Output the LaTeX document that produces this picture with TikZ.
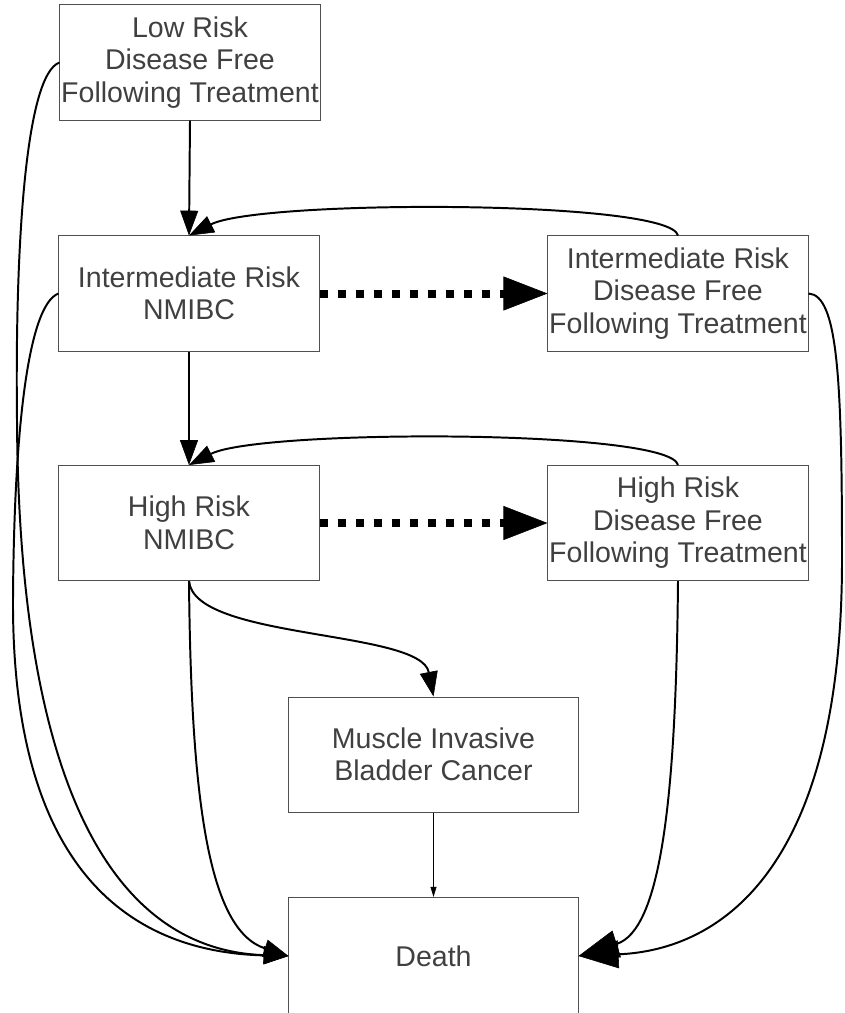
\documentclass[tikz,border=0pt]{standalone}
\usepackage{fontspec}
\setmainfont{Liberation Sans}
\usetikzlibrary{arrows.meta}
\definecolor{boxgray}{RGB}{80,80,80}
\definecolor{textgray}{RGB}{64,64,64}

\begin{document}
\begin{tikzpicture}[
  x=0.025cm, y=-0.025cm,
  state/.style={draw=boxgray, line width=0.7pt, text=textgray, align=center,
    minimum width=6.5cm, minimum height=2.875cm, inner sep=0pt,
    font=\fontsize{20.3}{23.1}\selectfont},
  wide/.style={state, minimum width=7.225cm},
  arr/.style={line width=1.4pt, -{Triangle[length=0.62cm, width=0.45cm, line width=0.4pt]}},
  bigarr/.style={line width=1.4pt, -{Triangle[length=1cm, width=0.7cm, line width=0.4pt]}},
  treat/.style={line width=0.2cm, dash pattern=on 0.2cm off 0.25cm,
    -{Triangle[length=1.1cm, width=0.85cm, line width=0.4pt]}},
  thinarr/.style={line width=0.7pt, -{Triangle[length=0.25cm, width=0.15cm, line width=0.4pt]}}
]
\useasboundingbox (0,0) rectangle (844,1013);
\node [state] (lowfree) at (190,62.5) {Low Risk\\Disease Free\\Following Treatment};
\node [state] (intrisk) at (189,293.5) {Intermediate Risk\\NMIBC};
\node [state] (intfree) at (678,293.5) {Intermediate Risk\\Disease Free\\Following Treatment};
\node [state] (highrisk) at (189,523) {High Risk\\NMIBC};
\node [state] (highfree) at (678,523) {High Risk\\Disease Free\\Following Treatment};
\node [wide] (mibc) at (433.5,754.5) {Muscle Invasive\\Bladder Cancer};
\node [wide, minimum height=2.93cm] (death) at (433.5,956) {Death};
\draw [arr] (lowfree.south) -- (intrisk.north);
\draw [arr] (intrisk.south) -- (highrisk.north);
\draw [treat] (intrisk) -- (intfree);
\draw [treat] (highrisk) -- (highfree);
\draw [arr] (intfree.north) .. controls +(-8,-36) and +(71,-36) .. (intrisk.north);
\draw [arr] (highfree.north) .. controls +(-8,-36) and +(71,-36) .. (highrisk.north);
\draw [arr] (highrisk.south) .. controls +(5,59) and +(-13,-67) .. (mibc.north);
\draw [thinarr] (mibc) -- (death);
\draw [arr] (lowfree.west) .. controls (25,75) and (15,250) .. (17,420)
  .. controls (19,800) and (120,950) .. (death.west);
\draw [arr] (intrisk.west) .. controls (28,305) and (14,430) .. (13,600)
  .. controls (12,870) and (130,952) .. (death.west);
\draw [arr] (highrisk.south) .. controls +(2,220) and +(-80,-26) .. (death.west);
\draw [bigarr] (highfree.south) .. controls +(-2,220) and +(82,-26) .. (death.east);
\draw [bigarr] (intfree.east) .. controls (838,295) and (842,380) .. (842,560)
  .. controls (842,870) and (720,950) .. (death.east);
\end{tikzpicture}
\end{document}
